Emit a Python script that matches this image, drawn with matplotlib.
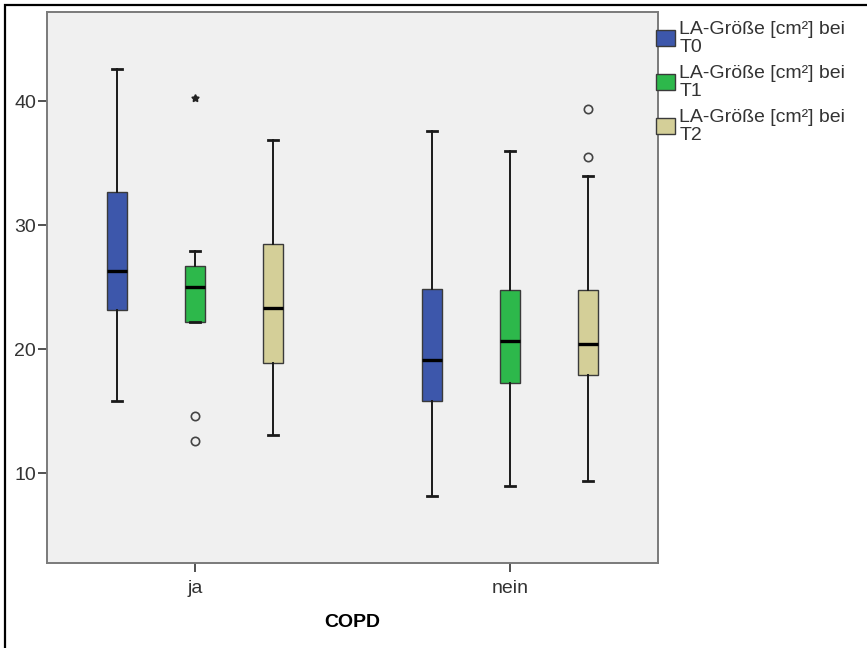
import matplotlib
matplotlib.use("Agg")
import matplotlib.pyplot as plt
from matplotlib.patches import Rectangle, Patch

plt.rcParams['font.family'] = ['Liberation Sans', 'DejaVu Sans']

# Groups and time points
groups = ["ja", "nein"]
series = ["LA-Größe [cm²] bei\nT0", "LA-Größe [cm²] bei\nT1", "LA-Größe [cm²] bei\nT2"]
colors = ["#3D57AB", "#2DB84B", "#D4CF98"]

# Five-number summaries per group (rows: ja, nein; columns: T0, T1, T2)
whislo = [[15.8, 22.2, 13.1], [8.2, 9.0, 9.4]]
q1     = [[23.2, 22.2, 18.9], [15.8, 17.3, 17.9]]
med    = [[26.3, 25.0, 23.3], [19.1, 20.7, 20.4]]
q3     = [[32.7, 26.7, 28.5], [24.9, 24.8, 24.8]]
whishi = [[42.6, 27.9, 36.9], [37.6, 36.0, 34.0]]

# Outliers (circles) and extreme values (stars)
outliers = [[[], [14.6, 12.6], []], [[], [], [39.4, 35.5]]]
extremes = [[[], [40.3], []], [[], [], []]]

offsets = [-0.248, 0.0, 0.248]
box_w = 0.064

fig = plt.figure(figsize=(8.67, 6.48), dpi=100)
ax = fig.add_axes([47 / 867, 1 - 562.7 / 648, (657.7 - 47) / 867, (562.7 - 12) / 648])
ax.set_facecolor("#F0F0F0")

for gi, g in enumerate(groups):
    for si in range(len(series)):
        pos = gi + offsets[si]
        stats = [dict(whislo=whislo[gi][si], q1=q1[gi][si], med=med[gi][si],
                      q3=q3[gi][si], whishi=whishi[gi][si], fliers=[])]
        ax.bxp(stats, positions=[pos], widths=box_w, patch_artist=True,
               showfliers=False, manage_ticks=False,
               boxprops=dict(facecolor=colors[si], edgecolor="#3a3a3a", linewidth=1.0),
               medianprops=dict(color="black", linewidth=2.4, solid_capstyle="butt"),
               whiskerprops=dict(color="#1a1a1a", linewidth=1.4),
               capprops=dict(color="#1a1a1a", linewidth=2.0),
               capwidths=box_w / 2)
        if outliers[gi][si]:
            ax.plot([pos] * len(outliers[gi][si]), outliers[gi][si], linestyle="none",
                    marker="o", markersize=6, markerfacecolor="none",
                    markeredgecolor="#444444", markeredgewidth=1.2)
        if extremes[gi][si]:
            ax.plot([pos] * len(extremes[gi][si]), extremes[gi][si], linestyle="none",
                    marker=(5, 1, 0), markersize=5.5, color="#222222")

ax.set_xlim(-0.47, 1.469)
ax.set_ylim(2.79, 47.2)
ax.set_xticks(range(len(groups)))
ax.set_xticklabels(groups)
ax.set_yticks([10, 20, 30, 40])
ax.tick_params(axis="both", labelsize=14, colors="#333333", length=6.5, width=1.2,
               direction="out")
ax.tick_params(axis="x", pad=6)
ax.tick_params(axis="y", pad=1.5)
for sp in ax.spines.values():
    sp.set_color("#7a7a7a")
    sp.set_linewidth(1.4)
ax.set_xlabel("COPD", fontsize=14, fontweight="bold", labelpad=12)

handles = [Patch(facecolor=c, edgecolor="#3a3a3a", linewidth=1.0) for c in colors]
fig.legend(handles, series, loc="upper left",
           bbox_to_anchor=(656 / 867, 1 - 21 / 648), frameon=False,
           fontsize=14, borderpad=0, borderaxespad=0, handlelength=1.0,
           handleheight=0.9, handletextpad=0.2, labelspacing=0.45)
for t in fig.legends[0].get_texts():
    t.set_linespacing(1.08)
    t.set_color("#333333")

# Outer frame
fig.add_artist(Rectangle((5 / 867, -0.5), 2.0, 0.5 + 1 - 5 / 648, transform=fig.transFigure,
                         fill=False, edgecolor="black", linewidth=1.6, clip_on=False))

fig.savefig("out.png", dpi=100)
